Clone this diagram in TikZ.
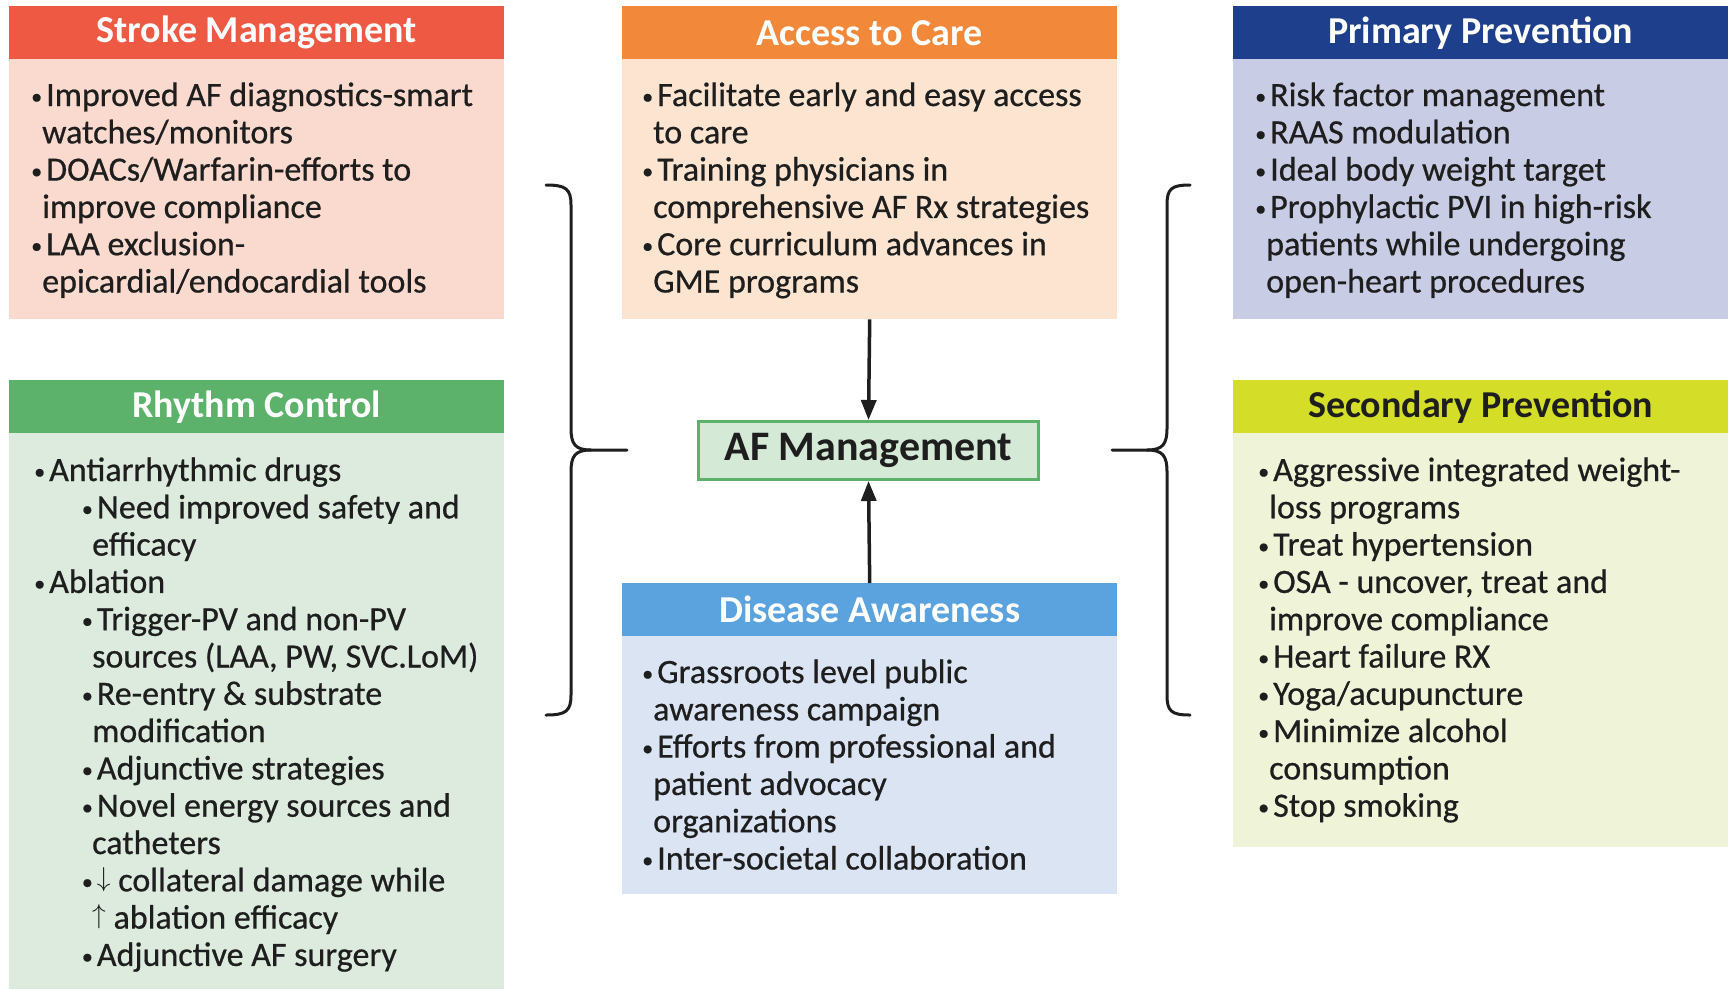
\documentclass[tikz,border=0pt]{standalone}
\usepackage{fontspec}
\usepackage{graphicx}
\setmainfont{Carlito}
\newfontfamily\bodyff{Carlito}[FakeBold=0.6]
\usetikzlibrary{arrows.meta}

% palette
\definecolor{ink}{HTML}{1E1E1E}
\definecolor{strokeHd}{HTML}{EE5944}
\definecolor{strokeBg}{HTML}{FADACE}
\definecolor{accessHd}{HTML}{F2893A}
\definecolor{accessBg}{HTML}{FDE4D0}
\definecolor{primHd}{HTML}{1E3F8C}
\definecolor{primBg}{HTML}{C8CCE4}
\definecolor{rhyHd}{HTML}{5CB26B}
\definecolor{rhyBg}{HTML}{DCEBDE}
\definecolor{secHd}{HTML}{D4DE28}
\definecolor{secBg}{HTML}{EFF3D7}
\definecolor{disHd}{HTML}{5AA3DE}
\definecolor{disBg}{HTML}{DAE4F3}
\definecolor{afBg}{HTML}{D5EAD6}

\newcommand\bodyfont{\bodyff\fontsize{34}{37.3}\selectfont}
\newcommand\headfont{\fontsize{38}{42}\selectfont\bfseries}
\newcommand\dotmark{{\fontsize{22}{22}\selectfont\raisebox{2pt}{\textbullet}}}
\newcommand\bu{\makebox[15pt][l]{\dotmark}}
\newcommand\cn{\hspace*{11pt}}
\newcommand\sbu{\hspace*{47.7pt}\bu}
\newcommand\scn{\hspace*{58pt}}
% thin arrows sitting on the baseline, as tall as the ascenders
\newcommand\dn{\raisebox{5.3pt}{\scalebox{1.1}{$\downarrow$}}}
\newcommand\up{\raisebox{5.3pt}{\scalebox{1.1}{$\uparrow$}}}
\newenvironment{lines}{\begin{tabular}[t]{@{}l@{}}}{\end{tabular}}

\tikzset{
  hdr/.style={anchor=north west, inner sep=0pt, minimum width=495pt,
    minimum height=53pt, font=\headfont, text=white},
  panel/.style={anchor=north west, inner sep=0pt, minimum width=495pt},
  txt/.style={anchor=base west, inner sep=0pt, font=\bodyfont, text=ink},
  conn/.style={line width=3.5pt, draw=ink, -{Triangle[length=20pt,width=15pt]}},
  brace/.style={line width=3pt, draw=ink, line cap=round},
}

\begin{document}
\begin{tikzpicture}[x=1pt,y=-1pt]
\useasboundingbox (0,0) rectangle (1731,989);

% ---- Stroke Management
\node[hdr, fill=strokeHd] (strokeH) at (9,6) {Stroke Management};
\node[panel, fill=strokeBg, minimum height=260pt] (strokeB) at (9,59) {};
\node[txt] (strokeT) at (31,106) {\begin{lines}
\bu Improved AF diagnostics-smart\\
\cn watches/monitors\\
\bu DOACs/Warfarin-efforts to\\
\cn improve compliance\\
\bu LAA exclusion-\\
\cn epicardial/endocardial tools
\end{lines}};

% ---- Access to Care
\node[hdr, fill=accessHd] (accessH) at (622,6) {Access to Care};
\node[panel, fill=accessBg, minimum height=260pt] (accessB) at (622,59) {};
\node[txt] (accessT) at (642,106) {\begin{lines}
\bu Facilitate early and easy access\\
\cn to care\\
\bu Training physicians in\\
\cn comprehensive AF Rx strategies\\
\bu Core curriculum advances in\\
\cn GME programs
\end{lines}};

% ---- Primary Prevention
\node[hdr, fill=primHd] (primH) at (1233,6) {Primary Prevention};
\node[panel, fill=primBg, minimum height=260pt] (primB) at (1233,59) {};
\node[txt] (primT) at (1255,106) {\begin{lines}
\bu Risk factor management\\
\bu RAAS modulation\\
\bu Ideal body weight target\\
\bu Prophylactic PVI in high-risk\\
\cn patients while undergoing\\
\cn open-heart procedures
\end{lines}};

% ---- Rhythm Control
\node[hdr, fill=rhyHd] (rhyH) at (9,380) {Rhythm Control};
\node[panel, fill=rhyBg, minimum height=556pt] (rhyB) at (9,433) {};
\node[txt] (rhyT) at (34,481) {\begin{lines}
\bu Antiarrhythmic drugs\\
\sbu Need improved safety and\\
\scn efficacy\\
\bu Ablation\\
\sbu Trigger-PV and non-PV\\
\scn sources (LAA, PW, SVC.LoM)\\
\sbu Re-entry \& substrate\\
\scn modification\\
\sbu Adjunctive strategies\\
\sbu Novel energy sources and\\
\scn catheters\\
\sbu \dn\ collateral damage while\\
\scn \up\ ablation efficacy\\
\sbu Adjunctive AF surgery
\end{lines}};

% ---- Secondary Prevention
\node[hdr, fill=secHd, text=ink] (secH) at (1233,380) {Secondary Prevention};
\node[panel, fill=secBg, minimum height=414pt] (secB) at (1233,433) {};
\node[txt] (secT) at (1258,481) {\begin{lines}
\bu Aggressive integrated weight-\\
\cn loss programs\\
\bu Treat hypertension\\
\bu OSA - uncover, treat and\\
\cn improve compliance\\
\bu Heart failure RX\\
\bu Yoga/acupuncture\\
\bu Minimize alcohol\\
\cn consumption\\
\bu Stop smoking
\end{lines}};

% ---- Disease Awareness
\node[hdr, fill=disHd] (disH) at (622,583) {Disease Awareness};
\node[panel, fill=disBg, minimum height=258pt] (disB) at (622,636) {};
\node[txt] (disT) at (642,683) {\begin{lines}
\bu Grassroots level public\\
\cn awareness campaign\\
\bu Efforts from professional and\\
\cn patient advocacy\\
\cn organizations\\
\bu Inter-societal collaboration
\end{lines}};

% ---- central node
\node[draw=rhyHd, line width=3pt, fill=afBg, minimum width=340pt,
  minimum height=58pt, inner sep=0pt, font=\fontsize{42}{46}\selectfont\bfseries,
  text=ink] (af) at (868.5,450.5) {AF Management};

% ---- arrows into the central node
\draw[conn] (accessB.south) -- (af.north);
\draw[conn] (disH.north) -- (af.south);

% ---- left brace
\coordinate (lbTop) at (546,185);
\coordinate (lbBot) at (546,715);
\coordinate (lbMid) at (591,450);
\coordinate (lbTip) at (627,450);
\draw[brace] (lbTop) .. controls (566,185) and (571,189) .. (571,205)
  -- (571,428) .. controls (571,444) and (575,450) .. (lbMid) -- (lbTip);
\draw[brace] (lbMid) .. controls (575,450) and (571,456) .. (571,472)
  -- (571,695) .. controls (571,711) and (566,715) .. (lbBot);

% ---- right brace
\coordinate (rbTop) at (1190,185);
\coordinate (rbBot) at (1190,715);
\coordinate (rbMid) at (1147,450);
\coordinate (rbTip) at (1112,450);
\draw[brace] (rbTop) .. controls (1171,185) and (1167,189) .. (1167,205)
  -- (1167,428) .. controls (1167,444) and (1163,450) .. (rbMid) -- (rbTip);
\draw[brace] (rbMid) .. controls (1163,450) and (1167,456) .. (1167,472)
  -- (1167,695) .. controls (1167,711) and (1171,715) .. (rbBot);
\end{tikzpicture}
\end{document}
